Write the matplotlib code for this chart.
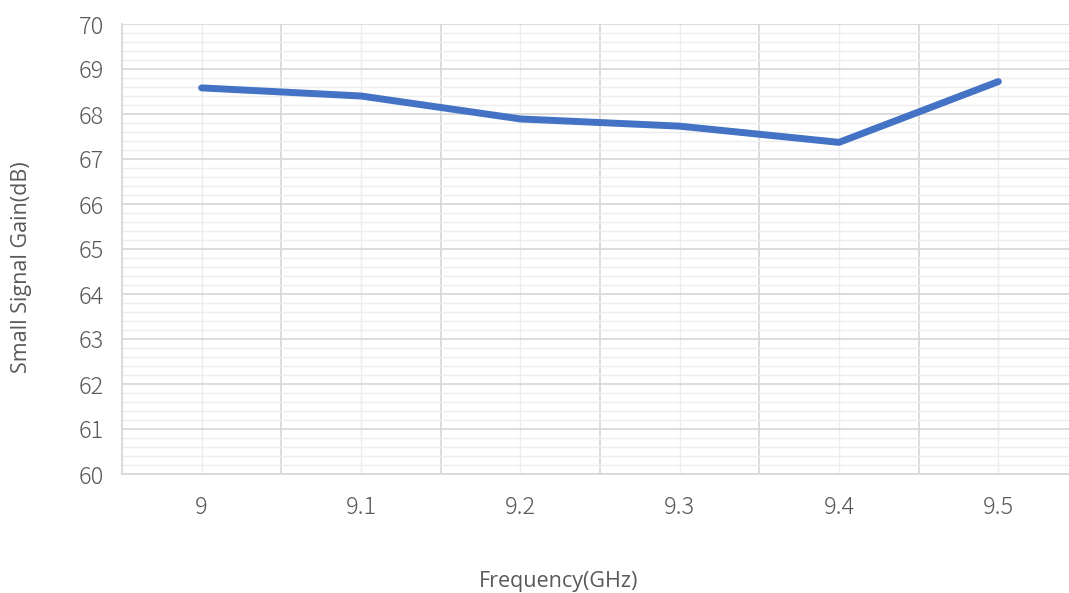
"""Small signal gain vs frequency, Excel-style line chart."""
import matplotlib
matplotlib.use("Agg")
import matplotlib.pyplot as plt
import numpy as np
from matplotlib.ticker import MultipleLocator, FixedLocator

freq_labels = ["9", "9.1", "9.2", "9.3", "9.4", "9.5"]
gain_db = [68.58, 68.40, 67.89, 67.73, 67.37, 68.72]

LINE_BLUE = "#4472C4"
TEXT_GRAY = "#595959"

W, H = 1069, 593
fig = plt.figure(figsize=(W / 100, H / 100), dpi=100)
ax_l, ax_b, ax_w, ax_h = 122 / W, 1 - 474 / H, (1078 - 122) / W, (474 - 24) / H
ax = fig.add_axes([ax_l, ax_b, ax_w, ax_h])

x = np.arange(len(freq_labels))
ax.plot(x, gain_db, color=LINE_BLUE, linewidth=5.0,
        solid_capstyle="round", solid_joinstyle="round", zorder=3)

ax.set_xlim(-0.5, len(freq_labels) - 0.5)
ax.set_ylim(60, 70)

# y grid: major every 1 dB, minor every 0.2 dB
ax.yaxis.set_major_locator(MultipleLocator(1))
ax.yaxis.set_minor_locator(MultipleLocator(0.2))
# x grid: darker lines between categories, light lines at categories
ax.xaxis.set_major_locator(FixedLocator(x))
ax.xaxis.set_minor_locator(FixedLocator(np.arange(-0.5, len(freq_labels), 1.0)))
ax.set_xticklabels(freq_labels)

ax.grid(which="major", axis="y", color="#D9D9D9", linewidth=1.3, zorder=0)
ax.grid(which="minor", axis="y", color="#EDEDED", linewidth=1.0, zorder=0)
ax.grid(which="minor", axis="x", color="#D9D9D9", linewidth=1.3, zorder=0)
ax.grid(which="major", axis="x", color="#EDEDED", linewidth=1.0, zorder=0)
ax.set_axisbelow(True)

for side in ["top", "right"]:
    ax.spines[side].set_visible(False)
for side in ["left", "bottom"]:
    ax.spines[side].set_color("#D9D9D9")
    ax.spines[side].set_linewidth(1.3)

ax.tick_params(which="both", length=0)
ax.tick_params(axis="y", pad=13)
ax.tick_params(axis="x", pad=15)
for lab in ax.get_xticklabels() + ax.get_yticklabels():
    lab.set_family(["Noto Sans CJK JP", "DejaVu Sans"])
    lab.set_fontweight("light")
    lab.set_fontsize(17)
    lab.set_color(TEXT_GRAY)

ax.set_xlabel("Frequency(GHz)", fontsize=15.5, color=TEXT_GRAY,
              family="Open Sans", va="center")
ax.set_ylabel("Small Signal Gain(dB)", fontsize=15.5, color=TEXT_GRAY,
              family="Open Sans", va="center")
ax.xaxis.set_label_coords((559 - 122) / (ax_w * W), -(581 - 474) / (ax_h * H))
ax.yaxis.set_label_coords(-(122 - 22) / (ax_w * W), (474 - 267) / (ax_h * H))

fig.savefig("out.png", dpi=100)
